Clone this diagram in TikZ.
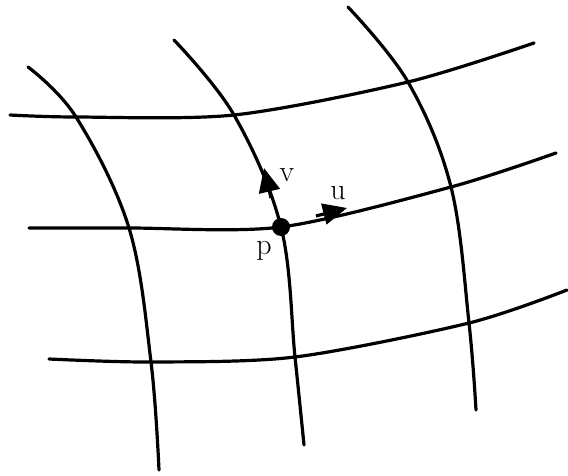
\documentclass[tikz,border=0pt]{standalone}
\usetikzlibrary{arrows.meta}
\begin{document}
\begin{tikzpicture}[x=1pt,y=-1pt,
  gridline/.style={line width=3.2pt,line cap=round,line join=round},
  vecarrow/.style={line width=3.2pt,-{Triangle[length=24pt,width=21pt]}},
  lbl/.style={font=\fontsize{30}{30}\selectfont,inner sep=0pt}]
\useasboundingbox (0,0) rectangle (568,476);
% vertical curves
\coordinate (a0) at (28,67);  \coordinate (a1) at (76,117); \coordinate (a2) at (129,228);
\coordinate (a3) at (151,362); \coordinate (a4) at (159,470);
\coordinate (b0) at (174,40); \coordinate (b1) at (234,115); \coordinate (b2) at (281,227);
\coordinate (b3) at (295,357); \coordinate (b4) at (304,445);
\coordinate (c0) at (348,7);  \coordinate (c1) at (408,82);  \coordinate (c2) at (451,187);
\coordinate (c3) at (469,323); \coordinate (c4) at (476,410);
% horizontal ends
\coordinate (h1s) at (10,115); \coordinate (h1e) at (534,43);
\coordinate (h2s) at (29,228); \coordinate (h2e) at (556,153);
\coordinate (h3s) at (49,359); \coordinate (h3e) at (567,290);
\draw[gridline] plot[smooth,tension=0.6] coordinates {(a0) (a1) (a2) (a3) (a4)};
\draw[gridline] plot[smooth,tension=0.6] coordinates {(b0) (b1) (b2) (b3) (b4)};
\draw[gridline] plot[smooth,tension=0.6] coordinates {(c0) (c1) (c2) (c3) (c4)};
\draw[gridline] plot[smooth,tension=0.5] coordinates {(h1s) (a1) (b1) (c1) (h1e)};
\draw[gridline] plot[smooth,tension=0.5] coordinates {(h2s) (a2) (b2) (c2) (h2e)};
\draw[gridline] plot[smooth,tension=0.5] coordinates {(h3s) (a3) (b3) (c3) (h3e)};
% point p and vectors
\node[circle,fill=black,inner sep=0pt,minimum size=18pt] (p) at (b2) {};
\coordinate (ubase) at (316,216); \coordinate (utip) at (347,208);
\coordinate (vbase) at (271,198); \coordinate (vtip) at (264,168);
\draw[vecarrow] (ubase) -- (utip);
\draw[vecarrow] (vbase) -- (vtip);
\node[lbl] (lv) at (287,175) {v};
\node[lbl] (lu) at (338,193) {u};
\node[lbl] (lp) at (264,251) {p};
\end{tikzpicture}
\end{document}
